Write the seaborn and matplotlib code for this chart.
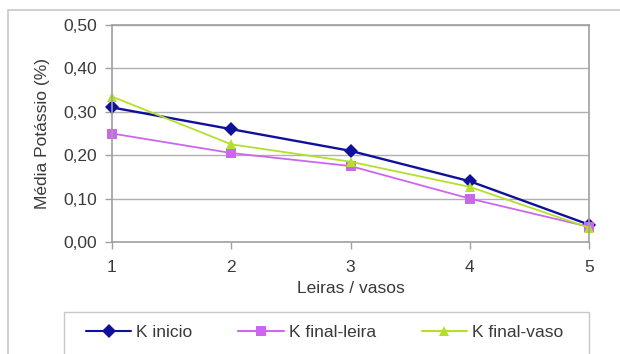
import matplotlib
matplotlib.use("Agg")
import matplotlib.pyplot as plt
from matplotlib.patches import Rectangle
import seaborn as sns
import pandas as pd

sns.set_style("white")
plt.rcParams["font.family"] = ["Liberation Sans", "DejaVu Sans"]

# values
leiras = [1, 2, 3, 4, 5]
k_inicio = [0.31, 0.26, 0.21, 0.14, 0.04]
k_final_leira = [0.25, 0.205, 0.175, 0.10, 0.035]
k_final_vaso = [0.335, 0.225, 0.185, 0.127, 0.033]
series_names = ["K inicio", "K final-leira", "K final-vaso"]
yticks = [0.0, 0.1, 0.2, 0.3, 0.4, 0.5]

df = pd.DataFrame({
    "Leiras": leiras * 3,
    "K": k_inicio + k_final_leira + k_final_vaso,
    "serie": [s for s in series_names for _ in leiras],
})

palette = {"K inicio": "#10109c", "K final-leira": "#cc66ee", "K final-vaso": "#b4e02c"}
markers = {"K inicio": "D", "K final-leira": "s", "K final-vaso": "^"}
txt = "#3a3a3a"
fs = 12.5

fig = plt.figure(figsize=(6.2, 3.54), dpi=100)
# outer chart border and legend frame
fig.patches.append(Rectangle((8 / 620, -0.1), 1.2, 1 - 10 / 354 + 0.1, transform=fig.transFigure,
                             fill=False, edgecolor="#c8c8c8", lw=1.2))
fig.patches.append(Rectangle((64 / 620, -0.1), (589 - 64) / 620, 1 - 312 / 354 + 0.1,
                             transform=fig.transFigure, fill=False, edgecolor="#c8c8c8", lw=1.0))

ax = fig.add_axes([112 / 620, 1 - 242 / 354, (589 - 112) / 620, (242 - 25) / 354])
sns.lineplot(data=df, x="Leiras", y="K", hue="serie", style="serie", palette=palette,
             markers=markers, dashes=False, markersize=7.5, markeredgewidth=0,
             linewidth=1.3, ax=ax, legend=False)
for ln in ax.lines:
    ln.set_clip_on(False)
ax.lines[0].set_linewidth(1.7)

ax.set_xlim(1, 5)
ax.set_ylim(0, 0.5)
ax.set_xticks(leiras)
ax.set_xticklabels([str(v) for v in leiras])
ax.set_yticks(yticks)
ax.set_yticklabels([f"{v:.2f}".replace(".", ",") for v in yticks])
ax.yaxis.grid(True, color="#b0b0b0", lw=1.0)
ax.set_axisbelow(True)
for sp in ax.spines.values():
    sp.set_color("#a0a0a0")
    sp.set_linewidth(1.2)
ax.tick_params(axis="both", colors="#a0a0a0", labelcolor=txt, labelsize=fs,
               length=5, width=1.0, direction="out", left=True, bottom=True)
ax.tick_params(axis="x", pad=8)
ax.tick_params(axis="y", pad=6)
ax.set_xlabel("Leiras / vasos", fontsize=fs, color=txt, labelpad=4)
ax.set_ylabel("Média Potássio (%)", fontsize=fs, color=txt, labelpad=9)

handles = [plt.Line2D([], [], color=palette[s], marker=markers[s], markersize=7.5,
                      markeredgewidth=0, lw=1.5) for s in series_names]
fig.legend(handles, series_names, loc="center left", ncol=3, frameon=False,
           bbox_to_anchor=(74 / 620, 1 - 332 / 354), fontsize=fs, labelcolor=txt,
           handlelength=2.6, handletextpad=0.3, columnspacing=2.63, borderpad=0.2)

fig.savefig("out.png", dpi=100)
